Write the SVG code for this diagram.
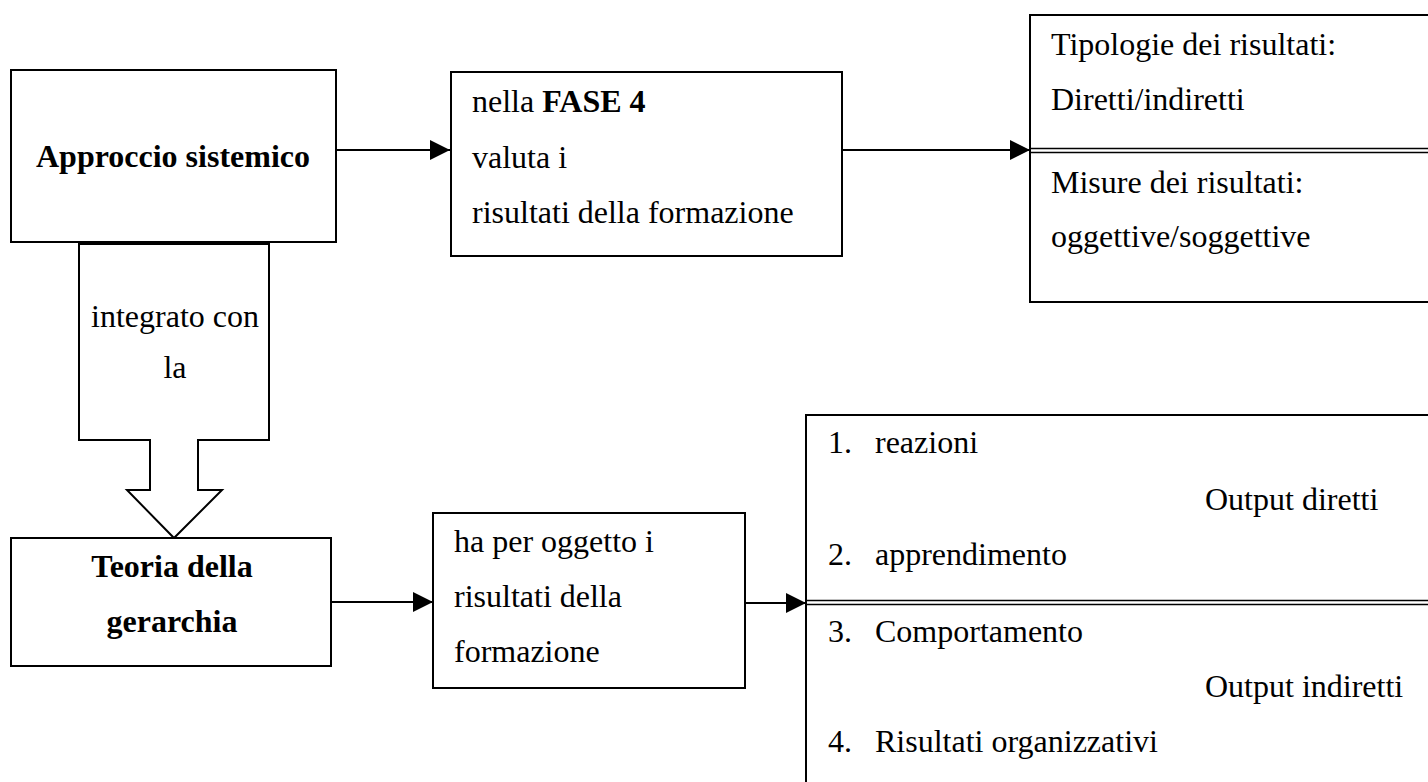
<svg xmlns="http://www.w3.org/2000/svg" width="1428" height="782" viewBox="0 0 1428 782">
<defs>
<marker id="ah" markerWidth="20" markerHeight="20" refX="20" refY="10" orient="auto" markerUnits="userSpaceOnUse"><path d="M0,0 L20,10 L0,20 z" fill="#000"/></marker>
</defs>
<style>
.box{fill:#fff;stroke:#000;stroke-width:2}
.t{font-family:"Liberation Serif","Times New Roman",serif;font-size:32px;fill:#000}
.b{font-weight:bold}
.m{text-anchor:middle}
.c{stroke:#000;stroke-width:2;fill:none}
.dbl{stroke:#000;stroke-width:1.5;fill:none}
</style>
<rect width="1428" height="782" fill="#fff"/>
<g id="connectors">
<line class="c" x1="336" y1="150" x2="450" y2="150" marker-end="url(#ah)"/>
<line class="c" x1="842" y1="150" x2="1030" y2="150" marker-end="url(#ah)"/>
<line class="c" x1="331" y1="602" x2="433" y2="602" marker-end="url(#ah)"/>
<line class="c" x1="745" y1="603" x2="806" y2="603" marker-end="url(#ah)"/>
</g>
<g id="approccio">
<rect class="box" x="11" y="70" width="325" height="172"/>
<text class="t b m" x="173" y="167">Approccio sistemico</text>
</g>
<g id="integrato">
<polygon class="box" points="79,244 269,244 269,440 198,440 198,490 222,490 174,538 127,490 150,490 150,440 79,440"/>
<text class="t m" x="175" y="327">integrato con</text>
<text class="t m" x="175" y="378">la</text>
</g>
<g id="fase4">
<rect class="box" x="451" y="72" width="391" height="184"/>
<text class="t" x="472" y="112">nella <tspan class="b">FASE 4</tspan></text>
<text class="t" x="472" y="168">valuta i</text>
<text class="t" x="472" y="223">risultati della formazione</text>
</g>
<g id="tipologie">
<rect class="box" x="1030" y="15" width="420" height="287"/>
<line class="dbl" x1="1030" y1="148.5" x2="1428" y2="148.5"/>
<line class="dbl" x1="1030" y1="152.5" x2="1428" y2="152.5"/>
<text class="t" x="1051" y="55">Tipologie dei risultati:</text>
<text class="t" x="1051" y="110">Diretti/indiretti</text>
<text class="t" x="1051" y="193">Misure dei risultati:</text>
<text class="t" x="1051" y="247">oggettive/soggettive</text>
</g>
<g id="teoria">
<rect class="box" x="11" y="538" width="320" height="128"/>
<text class="t b m" x="172" y="577">Teoria della</text>
<text class="t b m" x="172" y="632">gerarchia</text>
</g>
<g id="oggetto">
<rect class="box" x="433" y="513" width="312" height="175"/>
<text class="t" x="454" y="552">ha per oggetto i</text>
<text class="t" x="454" y="607">risultati della</text>
<text class="t" x="454" y="662">formazione</text>
</g>
<g id="livelli">
<rect class="box" x="806" y="415" width="640" height="400"/>
<line class="dbl" x1="806" y1="600.5" x2="1428" y2="600.5"/>
<line class="dbl" x1="806" y1="604.5" x2="1428" y2="604.5"/>
<text class="t" x="828" y="453">1.</text><text class="t" x="875" y="453">reazioni</text>
<text class="t" x="1205" y="510">Output diretti</text>
<text class="t" x="828" y="565">2.</text><text class="t" x="875" y="565">apprendimento</text>
<text class="t" x="828" y="642">3.</text><text class="t" x="875" y="642">Comportamento</text>
<text class="t" x="1205" y="697">Output indiretti</text>
<text class="t" x="828" y="752">4.</text><text class="t" x="875" y="752">Risultati organizzativi</text>
</g>
</svg>
